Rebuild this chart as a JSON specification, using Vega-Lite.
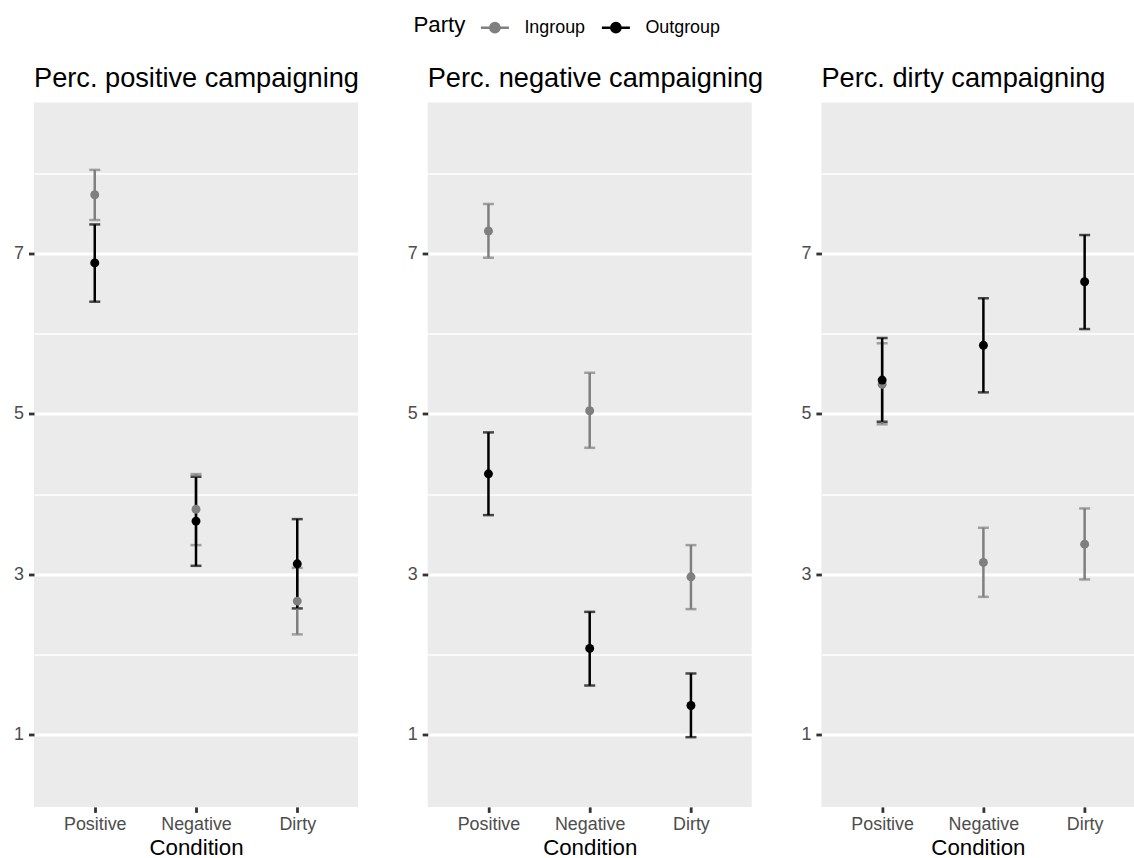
{
  "$schema": "https://vega.github.io/schema/vega-lite/v6.json",
  "background": "white",
  "padding": {"left": 13, "top": 11.5, "right": 0, "bottom": 0},
  "spacing": 69.7,
  "bounds": "flush",
  "data": {
    "values": [
      {"panel": "pos", "condition": "Positive", "party": "Ingroup", "mean": 7.73, "lo": 7.415, "hi": 8.04},
      {"panel": "pos", "condition": "Negative", "party": "Ingroup", "mean": 3.81, "lo": 3.363, "hi": 4.248},
      {"panel": "pos", "condition": "Dirty", "party": "Ingroup", "mean": 2.665, "lo": 2.25, "hi": 3.08},
      {"panel": "pos", "condition": "Positive", "party": "Outgroup", "mean": 6.88, "lo": 6.397, "hi": 7.36},
      {"panel": "pos", "condition": "Negative", "party": "Outgroup", "mean": 3.662, "lo": 3.105, "hi": 4.215},
      {"panel": "pos", "condition": "Dirty", "party": "Outgroup", "mean": 3.13, "lo": 2.574, "hi": 3.687},
      {"panel": "neg", "condition": "Positive", "party": "Ingroup", "mean": 7.278, "lo": 6.945, "hi": 7.615},
      {"panel": "neg", "condition": "Negative", "party": "Ingroup", "mean": 5.038, "lo": 4.576, "hi": 5.511},
      {"panel": "neg", "condition": "Dirty", "party": "Ingroup", "mean": 2.968, "lo": 2.565, "hi": 3.363},
      {"panel": "neg", "condition": "Positive", "party": "Outgroup", "mean": 4.252, "lo": 3.737, "hi": 4.768},
      {"panel": "neg", "condition": "Negative", "party": "Outgroup", "mean": 2.075, "lo": 1.613, "hi": 2.531},
      {"panel": "neg", "condition": "Dirty", "party": "Outgroup", "mean": 1.364, "lo": 0.969, "hi": 1.763},
      {"panel": "dirty", "condition": "Positive", "party": "Ingroup", "mean": 5.367, "lo": 4.871, "hi": 5.878},
      {"panel": "dirty", "condition": "Negative", "party": "Ingroup", "mean": 3.147, "lo": 2.718, "hi": 3.579},
      {"panel": "dirty", "condition": "Dirty", "party": "Ingroup", "mean": 3.375, "lo": 2.935, "hi": 3.82},
      {"panel": "dirty", "condition": "Positive", "party": "Outgroup", "mean": 5.42, "lo": 4.9, "hi": 5.944},
      {"panel": "dirty", "condition": "Negative", "party": "Outgroup", "mean": 5.853, "lo": 5.267, "hi": 6.44},
      {"panel": "dirty", "condition": "Dirty", "party": "Outgroup", "mean": 6.646, "lo": 6.056, "hi": 7.228}
    ]
  },
  "config": {
    "font": "Liberation Sans",
    "view": {"fill": "#EBEBEB", "stroke": null},
    "title": {"anchor": "start", "frame": "group", "fontSize": 27.2, "fontWeight": "normal", "color": "#000000", "baseline": "alphabetic", "offset": 9, "limit": 500},
    "axis": {
      "domain": false,
      "ticks": true,
      "gridColor": "#FFFFFF",
      "gridOpacity": 1,
      "gridWidth": 2.8,
      "tickColor": "#333333",
      "tickOpacity": 1,
      "tickWidth": 2.8,
      "tickSize": 5.5,
      "labelColor": "#4D4D4D",
      "labelFontSize": 17.9,
      "labelFont": "Liberation Sans",
      "titleFont": "Liberation Sans",
      "titleFontSize": 22.3,
      "titleFontWeight": "normal",
      "titleColor": "#000000"
    },
    "legend": {
      "direction": "horizontal",
      "titleOrient": "left",
      "titleFontSize": 22.3,
      "titleFontWeight": "normal",
      "titleColor": "#000000",
      "titleFont": "Liberation Sans",
      "titlePadding": 13,
      "labelFont": "Liberation Sans",
      "labelFontSize": 17.9,
      "labelColor": "#000000",
      "symbolSize": 784,
      "symbolStrokeWidth": 2.5,
      "symbolType": "M-1,0L1,0M-0.33,0A0.33,0.33,0,1,1,0.33,0A0.33,0.33,0,1,1,-0.33,0Z",
      "columnPadding": 11,
      "labelOffset": 14
    }
  },
  "resolve": {"scale": {"color": "shared"}},
  "hconcat": [
    {
      "title": "Perc. positive campaigning",
      "width": 324,
      "height": 704.4,
      "transform": [{"filter": "datum.panel == 'pos'"}],
      "encoding": {
        "x": {"field": "condition", "type": "nominal", "sort": ["Positive", "Negative", "Dirty"], "scale": {"type": "point", "padding": 0.6}, "title": "Condition", "axis": {"labelAngle": 0, "labelPadding": 3, "titlePadding": 3}},
        "color": {"field": "party", "type": "nominal", "title": "Party", "scale": {"domain": ["Ingroup", "Outgroup"], "range": ["#7F7F7F", "#000000"]}, "legend": {"orient": "none", "legendX": 379.4, "legendY": -90.8, "direction": "horizontal", "encode": {"symbols": {"update": {"fill": {"scale": "color", "field": "value"}, "stroke": {"scale": "color", "field": "value"}, "strokeWidth": {"value": 2.5}, "opacity": {"value": 1}}}}}}
      },
      "layer": [
        {"mark": {"type": "errorbar", "thickness": 2.5, "ticks": {"size": 11, "thickness": 2.5}}, "encoding": {"y": {"field": "lo", "type": "quantitative", "scale": {"domain": [0.1, 8.88], "nice": false, "zero": false}, "title": null, "axis": {"values": [1, 2, 3, 4, 5, 6, 7, 8], "format": "d", "labelExpr": "datum.value % 2 === 1 ? datum.label : ''", "gridWidth": {"condition": {"test": "datum.value % 2 === 0", "value": 1.4}, "value": 2.8}, "tickColor": {"condition": {"test": "datum.value % 2 === 0", "value": "transparent"}, "value": "#333333"}, "labelPadding": 5}}, "y2": {"field": "hi"}}},
        {"mark": {"type": "point", "filled": true, "size": 80, "opacity": 1}, "encoding": {"y": {"field": "mean", "type": "quantitative"}}}
      ]
    },
    {
      "title": "Perc. negative campaigning",
      "width": 324,
      "height": 704.4,
      "transform": [{"filter": "datum.panel == 'neg'"}],
      "encoding": {
        "x": {"field": "condition", "type": "nominal", "sort": ["Positive", "Negative", "Dirty"], "scale": {"type": "point", "padding": 0.6}, "title": "Condition", "axis": {"labelAngle": 0, "labelPadding": 3, "titlePadding": 3}},
        "color": {"field": "party", "type": "nominal", "title": "Party", "scale": {"domain": ["Ingroup", "Outgroup"], "range": ["#7F7F7F", "#000000"]}}
      },
      "layer": [
        {"mark": {"type": "errorbar", "thickness": 2.5, "ticks": {"size": 11, "thickness": 2.5}}, "encoding": {"y": {"field": "lo", "type": "quantitative", "scale": {"domain": [0.1, 8.88], "nice": false, "zero": false}, "title": null, "axis": {"values": [1, 2, 3, 4, 5, 6, 7, 8], "format": "d", "labelExpr": "datum.value % 2 === 1 ? datum.label : ''", "gridWidth": {"condition": {"test": "datum.value % 2 === 0", "value": 1.4}, "value": 2.8}, "tickColor": {"condition": {"test": "datum.value % 2 === 0", "value": "transparent"}, "value": "#333333"}, "labelPadding": 5}}, "y2": {"field": "hi"}}},
        {"mark": {"type": "point", "filled": true, "size": 80, "opacity": 1}, "encoding": {"y": {"field": "mean", "type": "quantitative"}}}
      ]
    },
    {
      "title": "Perc. dirty campaigning",
      "width": 313,
      "height": 704.4,
      "transform": [{"filter": "datum.panel == 'dirty'"}],
      "encoding": {
        "x": {"field": "condition", "type": "nominal", "sort": ["Positive", "Negative", "Dirty"], "scale": {"type": "point", "padding": 0.5457, "align": 0.5498}, "title": "Condition", "axis": {"labelAngle": 0, "labelPadding": 3, "titlePadding": 3}},
        "color": {"field": "party", "type": "nominal", "title": "Party", "scale": {"domain": ["Ingroup", "Outgroup"], "range": ["#7F7F7F", "#000000"]}}
      },
      "layer": [
        {"mark": {"type": "errorbar", "thickness": 2.5, "ticks": {"size": 11, "thickness": 2.5}}, "encoding": {"y": {"field": "lo", "type": "quantitative", "scale": {"domain": [0.1, 8.88], "nice": false, "zero": false}, "title": null, "axis": {"values": [1, 2, 3, 4, 5, 6, 7, 8], "format": "d", "labelExpr": "datum.value % 2 === 1 ? datum.label : ''", "gridWidth": {"condition": {"test": "datum.value % 2 === 0", "value": 1.4}, "value": 2.8}, "tickColor": {"condition": {"test": "datum.value % 2 === 0", "value": "transparent"}, "value": "#333333"}, "labelPadding": 5}}, "y2": {"field": "hi"}}},
        {"mark": {"type": "point", "filled": true, "size": 80, "opacity": 1}, "encoding": {"y": {"field": "mean", "type": "quantitative"}}}
      ]
    }
  ]
}
